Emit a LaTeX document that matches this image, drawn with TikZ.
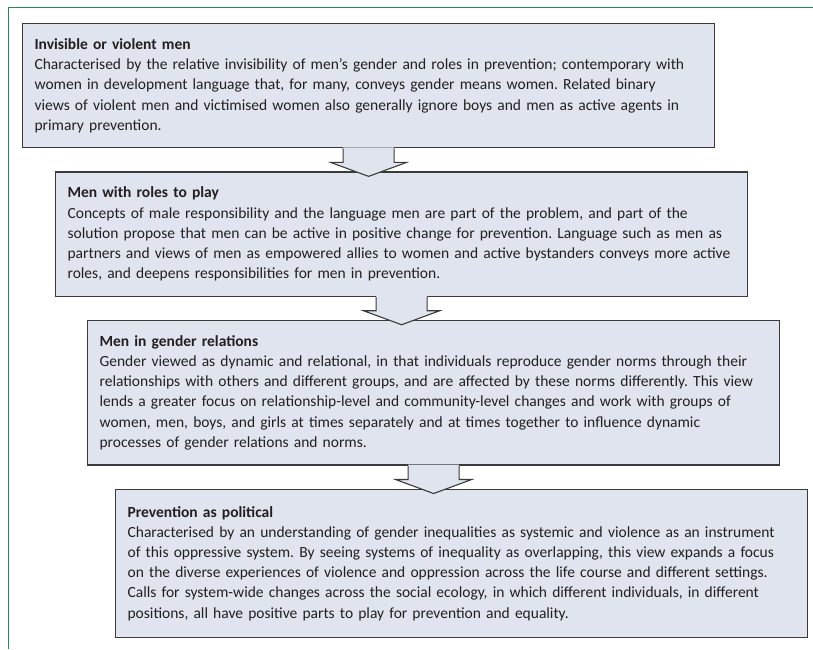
\documentclass[tikz,border=0pt]{standalone}
\usepackage{fontspec}
\setmainfont{Carlito}
\usepackage{tikz}
\usetikzlibrary{positioning,calc}

\definecolor{boxfill}{HTML}{DFE4EF}
\definecolor{boxline}{HTML}{3A3A3A}
\definecolor{framegreen}{HTML}{2A8C4A}
\definecolor{bodytext}{HTML}{231F20}
\frenchspacing

\begin{document}
\begin{tikzpicture}[x=1pt,y=1pt]
    \tikzstyle{stage}=[rectangle,draw=boxline,line width=1.2pt,fill=boxfill,text=bodytext,
      align=left,text width=668pt,inner xsep=12pt,inner ysep=15pt,
      font=\fontsize{15.5}{20.2}\selectfont]
    \tikzstyle{arrowline}=[draw=boxline,line width=1.1pt,line join=miter]
    \useasboundingbox (0,0) rectangle (813,-649);
    % frame
    \draw[framegreen,line width=1pt] (8,-649) -- (8,-7) -- (813,-7);
    % stages
    \node[stage,anchor=north west] (invisible) at (22,-23) {\textbf{Invisible or violent men}\\
      Characterised by the relative invisibility of men’s gender and roles in prevention; contemporary with\\
      women in development language that, for many, conveys gender means women. Related binary\\
      views of violent men and victimised women also generally ignore boys and men as active agents in\\
      primary prevention.};
    \node[stage,below=23pt of invisible.south west,anchor=north west,xshift=33pt] (roles) {\textbf{Men with roles to play}\\
      Concepts of male responsibility and the language men are part of the problem, and part of the\\
      solution propose that men can be active in positive change for prevention. Language such as men as\\
      partners and views of men as empowered allies to women and active bystanders conveys more active\\
      roles, and deepens responsibilities for men in prevention.};
    \node[stage,below=23pt of roles.south west,anchor=north west,xshift=32pt] (relations) {\textbf{Men in gender relations}\\
      Gender viewed as dynamic and relational, in that individuals reproduce gender norms through their\\
      relationships with others and different groups, and are affected by these norms differently. This view\\
      lends a greater focus on relationship-level and community-level changes and work with groups of\\
      women, men, boys, and girls at times separately and at times together to influence dynamic\\
      processes of gender relations and norms.};
    \node[stage,below=23pt of relations.south west,anchor=north west,xshift=28pt,inner ysep=17pt] (political) {\textbf{Prevention as political}\\
      Characterised by an understanding of gender inequalities as systemic and violence as an instrument\\
      of this oppressive system. By seeing systems of inequality as overlapping, this view expands a focus\\
      on the diverse experiences of violence and oppression across the life course and different settings.\\
      Calls for system-wide changes across the social ecology, in which different individuals, in different\\
      positions, all have positive parts to play for prevention and equality.};
    % arrows between stages
    \foreach \a in {invisible,roles,relations} {
      \coordinate (\a-tip) at ($(\a.south)+(0,-28)$);
      \fill[boxfill] ($(\a.south)+(-25.5,1)$) -- ($(\a.south)+(-25.5,-14)$) -- ($(\a.south)+(-38,-14)$)
        -- (\a-tip) -- ($(\a.south)+(38,-14)$) -- ($(\a.south)+(25.5,-14)$) -- ($(\a.south)+(25.5,1)$) -- cycle;
      \draw[arrowline] ($(\a.south)+(-25.5,0)$) -- ($(\a.south)+(-25.5,-14)$) -- ($(\a.south)+(-38,-14)$)
        -- (\a-tip) -- ($(\a.south)+(38,-14)$) -- ($(\a.south)+(25.5,-14)$) -- ($(\a.south)+(25.5,0)$);
    }
  \end{tikzpicture}
\end{document}
